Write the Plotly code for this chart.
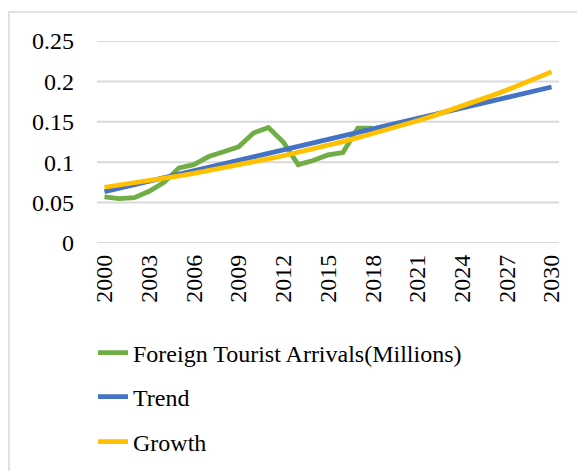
import plotly.graph_objects as go

years = list(range(2000, 2031))
actual_years = list(range(2000, 2019))
arrivals = [0.057, 0.055, 0.056, 0.064, 0.075, 0.093, 0.097, 0.107, 0.113, 0.119,
            0.136, 0.143, 0.125, 0.097, 0.102, 0.109, 0.112, 0.142, 0.142]
trend = [0.0635, 0.0678, 0.0721, 0.0765, 0.0808, 0.0851, 0.0894, 0.0937, 0.0981, 0.1024,
         0.1067, 0.1110, 0.1153, 0.1197, 0.1240, 0.1283, 0.1326, 0.1369, 0.1413, 0.1456,
         0.1499, 0.1542, 0.1585, 0.1629, 0.1672, 0.1715, 0.1758, 0.1801, 0.1845, 0.1888,
         0.1931]
growth = [0.0690, 0.0716, 0.0744, 0.0772, 0.0801, 0.0832, 0.0863, 0.0896, 0.0930, 0.0966,
          0.1003, 0.1041, 0.1080, 0.1121, 0.1164, 0.1209, 0.1255, 0.1302, 0.1352, 0.1404,
          0.1457, 0.1513, 0.1570, 0.1630, 0.1692, 0.1757, 0.1824, 0.1893, 0.1965, 0.2040,
          0.2118]
x_ticks = list(range(2000, 2031, 3))
y_ticks = [0, 0.05, 0.1, 0.15, 0.2, 0.25]
y_tick_text = ["0", "0.05", "0.1", "0.15", "0.2", "0.25"]

FONT = "Liberation Serif, Times New Roman, serif"
W, H = 577, 471
ML, MR, MT, MB = 97, 18, 41, 228
PW, PH = W - ML - MR, H - MT - MB
X_RANGE = [years[0] - 0.5, years[-1] + 0.5]

def px_x(p):
    return (p - ML) / PW

def px_y(p):
    return (H - MB - p) / PH

fig = go.Figure()
# light horizontal gridlines at the y tick values (drawn first, beneath the series)
for v in y_ticks:
    fig.add_trace(go.Scatter(x=X_RANGE, y=[v, v], mode="lines", showlegend=False,
                             hoverinfo="skip", cliponaxis=False,
                             line=dict(color="#D9D9D9", width=2)))

fig.add_trace(go.Scatter(x=actual_years, y=arrivals, mode="lines",
                         name="Foreign Tourist Arrivals(Millions)",
                         line=dict(color="#70AD47", width=4.8), legend="legend"))
fig.add_trace(go.Scatter(x=years, y=trend, mode="lines", name="Trend",
                         line=dict(color="#4472C4", width=4.8), legend="legend2"))
fig.add_trace(go.Scatter(x=years, y=growth, mode="lines", name="Growth",
                         line=dict(color="#FFC000", width=4.8), legend="legend3"))

leg_common = dict(xanchor="left", yanchor="middle", bgcolor="rgba(0,0,0,0)",
                  font=dict(family=FONT, size=24, color="#000000"))
lx = px_x(93)

border = dict(type="rect", xref="paper", yref="paper",
              x0=px_x(9), x1=px_x(590), y0=px_y(12), y1=px_y(490),
              line=dict(color="#D9D9D9", width=1.5), fillcolor="rgba(0,0,0,0)",
              layer="above")

fig.update_layout(
    width=W, height=H,
    margin=dict(l=ML, r=MR, t=MT, b=MB, autoexpand=False),
    paper_bgcolor="white", plot_bgcolor="white",
    font=dict(family=FONT, size=24, color="#000000"),
    showlegend=True,
    legend=dict(x=lx, y=px_y(353), **leg_common),
    legend2=dict(x=lx, y=px_y(397), **leg_common),
    legend3=dict(x=lx, y=px_y(442), **leg_common),
    xaxis=dict(range=X_RANGE, tickmode="array", tickvals=x_ticks,
               ticktext=[str(v) for v in x_ticks], tickangle=-90, showgrid=False,
               zeroline=False, showline=False, ticks="", ticklabelstandoff=6,
               tickfont=dict(family=FONT, size=24, color="#000000")),
    yaxis=dict(range=[0, 0.25], tickmode="array", tickvals=y_ticks, ticktext=y_tick_text,
               showgrid=False, zeroline=False,
               showline=False, ticks="", ticklabelstandoff=22,
               tickfont=dict(family=FONT, size=24, color="#000000")),
    shapes=[border],
)

fig.write_html("out.html", config={"displayModeBar": False},
               post_script="document.body.style.margin='0px';document.body.style.overflow='hidden';")
